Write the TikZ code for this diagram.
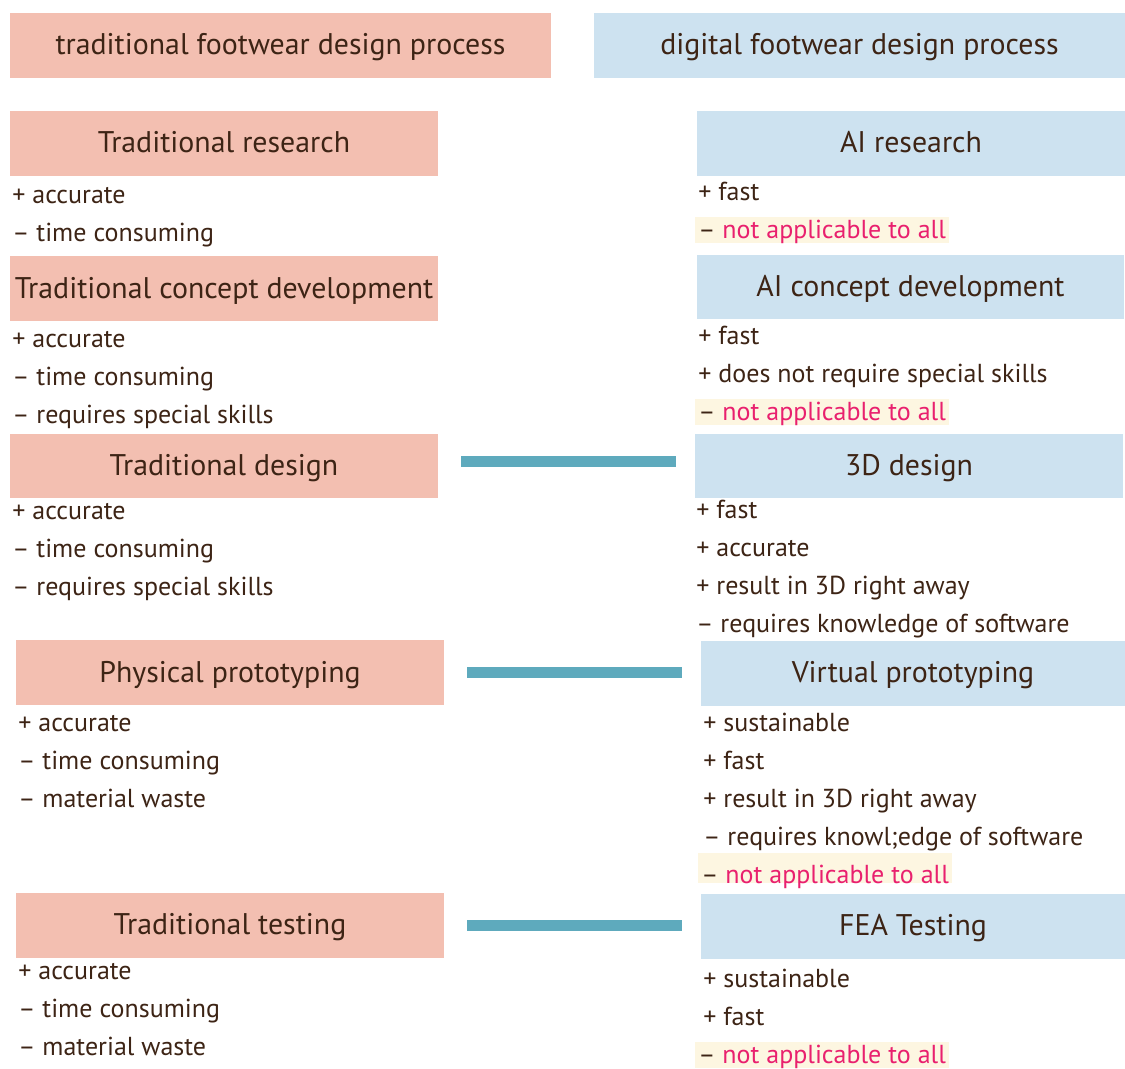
\documentclass[tikz,border=0pt]{standalone}
\usepackage{fontspec}
\setmainfont{PT Sans}
\usepackage{tikz}

\definecolor{tradfill}{HTML}{F3BFB1}
\definecolor{digifill}{HTML}{CDE2F0}
\definecolor{linkblue}{HTML}{5EAABD}
\definecolor{txtbrown}{HTML}{3D2415}
\definecolor{conpink}{HTML}{E9206E}
\definecolor{markyellow}{HTML}{FDF6E1}

\newcommand{\weaktext}[1]{\makebox[4.96cm][l]{\textcolor{txtbrown}{--} #1}}

\tikzset{
	tradbox/.style={fill=tradfill, inner sep=0pt, minimum width=8.56cm, minimum height=1.3cm, text height=0.5cm, text depth=0.12cm, text=txtbrown, font=\fontsize{17}{20}\selectfont},
	digibox/.style={tradbox, fill=digifill},
	item/.style={anchor=base west, inner sep=0pt, text=txtbrown, font=\fontsize{14.8}{17}\selectfont},
	weak/.style={item, text=conpink, fill=markyellow, inner xsep=0.06cm, text height=0.42cm, text depth=0.1cm},
	link/.style={linkblue, line width=0.22cm, shorten <=0.46cm, shorten >=0.38cm}
}

\begin{document}
\begin{tikzpicture}[x=0.02cm,y=-0.02cm]
\useasboundingbox (0,0) rectangle (1125,1068);

% headers
\node[tradbox, minimum width=10.82cm] (hdtrad) at (280.5,45.5) {traditional footwear design process};
\node[digibox, minimum width=10.62cm] (hddigi) at (859.5,45.5) {digital footwear design process};

% traditional side
\node[tradbox] (tres) at (224,143.5) {Traditional research};
\node[item] (tres1) at (12,203) {+ accurate};
\node[item] (tres2) at (12,241) {-- time consuming};

\node[tradbox] (tcon) at (224,288.5) {Traditional concept development};
\node[item] (tcon1) at (12,347) {+ accurate};
\node[item] (tcon2) at (12,385) {-- time consuming};
\node[item] (tcon3) at (12,423) {-- requires special skills};

\node[tradbox] (tdes) at (224,466) {Traditional design};
\node[item] (tdes1) at (12,519) {+ accurate};
\node[item] (tdes2) at (12,557) {-- time consuming};
\node[item] (tdes3) at (12,595) {-- requires special skills};

\node[tradbox] (tproto) at (230,672.5) {Physical prototyping};
\node[item] (tproto1) at (18,731) {+ accurate};
\node[item] (tproto2) at (18,769) {-- time consuming};
\node[item] (tproto3) at (18,807) {-- material waste};

\node[tradbox] (ttest) at (230,925) {Traditional testing};
\node[item] (ttest1) at (18,979) {+ accurate};
\node[item] (ttest2) at (18,1017) {-- time consuming};
\node[item] (ttest3) at (18,1055) {-- material waste};

% digital side
\node[digibox] (ares) at (911,143.5) {AI research};
\node[item] (ares1) at (698,200) {+ fast};
\node[weak] (ares2) at (695,238) {\weaktext{not applicable to all}};

\node[digibox] (acon) at (910.5,287) {AI concept development};
\node[item] (acon1) at (698,344) {+ fast};
\node[item] (acon2) at (698,382) {+ does not require special skills};
\node[weak] (acon3) at (695,420) {\weaktext{not applicable to all}};

\node[digibox] (ddes) at (909,466) {3D design};
\node[item] (ddes1) at (696,518) {+ fast};
\node[item] (ddes2) at (696,556) {+ accurate};
\node[item] (ddes3) at (696,594) {+ result in 3D right away};
\node[item] (ddes4) at (696,632) {-- requires knowledge of software};

\node[digibox, minimum width=8.48cm] (vproto) at (913,673) {Virtual prototyping};
\node[item] (vproto1) at (703,731) {+ sustainable};
\node[item] (vproto2) at (703,769) {+ fast};
\node[item] (vproto3) at (703,807) {+ result in 3D right away};
\node[item] (vproto4) at (703,845) {-- requires knowl;edge of software};
\node[weak, text height=0.6cm, text depth=0cm] (vproto5) at (698,883) {\weaktext{not applicable to all}};

\node[digibox, minimum width=8.48cm] (fea) at (913,926) {FEA Testing};
\node[item] (fea1) at (703,987) {+ sustainable};
\node[item] (fea2) at (703,1025) {+ fast};
\node[weak] (fea3) at (695,1063) {\weaktext{not applicable to all}};

% links
\draw[link] ([yshift=0.1cm]tdes.east) -- ([yshift=0.1cm]tdes.east -| ddes.west);
\draw[link] (tproto.east) -- (tproto.east -| vproto.west);
\draw[link] (ttest.east) -- (ttest.east -| fea.west);

\end{tikzpicture}
\end{document}
